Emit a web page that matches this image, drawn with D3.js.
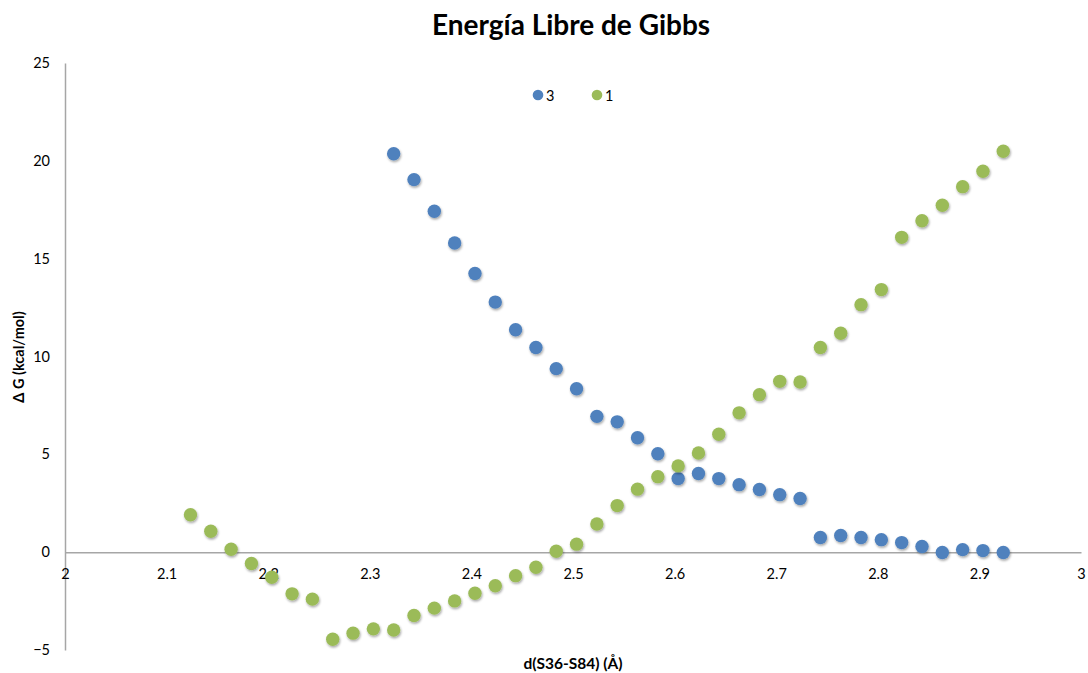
<!DOCTYPE html>
<html>
<head>
<meta charset="utf-8">
<script src="https://cdn.jsdelivr.net/npm/d3@7"></script>
<style>
  html, body { margin: 0; padding: 0; background: #fff; }
  svg { display: block; font-family: Lato, "Open Sans", sans-serif; }
</style>
</head>
<body>
<svg id="chart" width="1088" height="673"></svg>
<script>
// Distance values (Å)
const xSeries3 = [2.3235, 2.3435, 2.3635, 2.3835, 2.4035, 2.4235, 2.4435, 2.4635, 2.4835, 2.5035,
                  2.5235, 2.5435, 2.5635, 2.5835, 2.6035, 2.6235, 2.6435, 2.6635, 2.6835, 2.7035,
                  2.7235, 2.7435, 2.7635, 2.7835, 2.8035, 2.8235, 2.8435, 2.8635, 2.8835, 2.9035, 2.9235];
const ySeries3 = [20.36, 19.04, 17.42, 15.8, 14.24, 12.78, 11.37, 10.46, 9.38, 8.35,
                  6.94, 6.66, 5.85, 5.03, 3.76, 4.02, 3.76, 3.45, 3.2, 2.94,
                  2.74, 0.75, 0.85, 0.75, 0.64, 0.49, 0.29, -0.02, 0.13, 0.08, -0.02];

const xSeries1 = [2.1235, 2.1435, 2.1635, 2.1835, 2.2035, 2.2235, 2.2435, 2.2635, 2.2835, 2.3035,
                  2.3235, 2.3435, 2.3635, 2.3835, 2.4035, 2.4235, 2.4435, 2.4635, 2.4835, 2.5035,
                  2.5235, 2.5435, 2.5635, 2.5835, 2.6035, 2.6235, 2.6435, 2.6635, 2.6835, 2.7035,
                  2.7235, 2.7435, 2.7635, 2.7835, 2.8035, 2.8235, 2.8435, 2.8635, 2.8835, 2.9035, 2.9235];
const ySeries1 = [1.91, 1.07, 0.15, -0.58, -1.28, -2.13, -2.4, -4.45, -4.14, -3.92,
                  -3.98, -3.24, -2.86, -2.49, -2.1, -1.72, -1.2, -0.77, 0.05, 0.41,
                  1.44, 2.38, 3.22, 3.86, 4.41, 5.07, 6.03, 7.12, 8.05, 8.73,
                  8.7, 10.46, 11.19, 12.65, 13.42, 16.09, 16.94, 17.73, 18.68, 19.47, 20.49];

const xTicks = [2, 2.1, 2.2, 2.3, 2.4, 2.5, 2.6, 2.7, 2.8, 2.9, 3];
const yTicks = [-5, 0, 5, 10, 15, 20, 25];

const seriesNames = ["3", "1"];
const seriesColors = ["#4f81bd", "#9bbb59"];

const title = "Energía Libre de Gibbs";
const xTitle = "d(S36-S84) (Å)";
const yTitle = "Δ G (kcal/mol)";

const svg = d3.select("#chart");

const x = d3.scaleLinear().domain([2, 3]).range([65, 1081]);
const y = d3.scaleLinear().domain([-5, 25]).range([650, 63]);

// Soft shadow under each marker
const defs = svg.append("defs");
const f = defs.append("filter").attr("id", "shadow")
  .attr("x", "-50%").attr("y", "-50%").attr("width", "200%").attr("height", "200%");
f.append("feDropShadow").attr("dx", 0.8).attr("dy", 1.6)
  .attr("stdDeviation", 1).attr("flood-color", "#000").attr("flood-opacity", 0.35);

// Title
svg.append("text")
  .attr("x", 571).attr("y", 35)
  .attr("text-anchor", "middle")
  .attr("font-size", 28).attr("font-weight", "bold").attr("fill", "#000")
  .text(title);

// Y axis (line only, labels to the left)
const yAxis = d3.axisLeft(y).tickValues(yTicks).tickSize(0).tickPadding(15)
  .tickFormat(d3.format("d"));
const gy = svg.append("g").attr("transform", `translate(${x(2)},0)`).call(yAxis);
gy.select(".domain").attr("stroke", "#a6a6a6").attr("stroke-width", 1.5);
gy.selectAll("text").attr("font-size", 14.5).attr("fill", "#000")
  .attr("font-family", "Lato, 'Open Sans', sans-serif");

// X axis along zero
const xAxis = d3.axisBottom(x).tickValues(xTicks).tickSize(0).tickPadding(17)
  .tickFormat(d => d3.format("")(+d.toFixed(1)));
const gx = svg.append("g").attr("transform", `translate(0,${y(0)})`).call(xAxis);
gx.select(".domain").attr("stroke", "#a6a6a6").attr("stroke-width", 1.5);
gx.selectAll("text").attr("font-size", 14.5).attr("fill", "#000")
  .attr("font-family", "Lato, 'Open Sans', sans-serif");

// Axis titles
svg.append("text")
  .attr("x", 573).attr("y", 669)
  .attr("text-anchor", "middle")
  .attr("font-size", 15.5).attr("font-weight", "bold")
  .text(xTitle);

svg.append("text")
  .attr("transform", "translate(24,357) rotate(-90)")
  .attr("text-anchor", "middle")
  .attr("font-size", 14.5).attr("font-weight", "bold")
  .text(yTitle);

// Markers
const series = [
  { xs: xSeries3, ys: ySeries3, color: seriesColors[0] },
  { xs: xSeries1, ys: ySeries1, color: seriesColors[1] }
];
series.forEach(s => {
  svg.append("g").selectAll("circle")
    .data(s.xs.map((v, i) => [v, s.ys[i]]))
    .join("circle")
    .attr("cx", d => x(d[0]))
    .attr("cy", d => y(d[1]))
    .attr("r", 6.7)
    .attr("fill", s.color)
    .attr("filter", "url(#shadow)");
});

// Legend
const legendX = [538, 597];
seriesNames.forEach((name, i) => {
  svg.append("circle")
    .attr("cx", legendX[i]).attr("cy", 95).attr("r", 5.3)
    .attr("fill", seriesColors[i]);
  svg.append("text")
    .attr("x", legendX[i] + 8).attr("y", 100.5)
    .attr("font-size", 14.5).attr("fill", "#000")
    .text(name);
});
</script>
</body>
</html>
